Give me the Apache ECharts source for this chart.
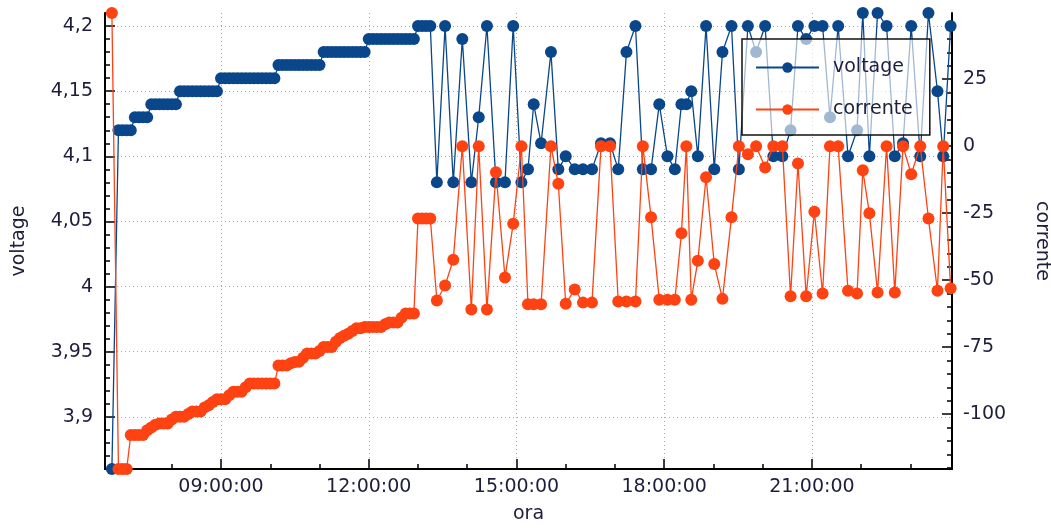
<!DOCTYPE html>
<html>
<head>
<meta charset="utf-8">
<script src="https://cdn.jsdelivr.net/npm/echarts@6/dist/echarts.min.js"></script>
<style>
  html, body { margin: 0; padding: 0; background: #fff; }
  #chart { width: 1051px; height: 528px; }
</style>
</head>
<body>
<div id="chart"></div>
<script>
const times = [
  "06:47", "06:55", "07:00", "07:05", "07:10", "07:15", "07:20", "07:25", "07:30", "07:35",
  "07:40", "07:45", "07:50", "07:55", "08:00", "08:05", "08:10", "08:15", "08:20", "08:25",
  "08:30", "08:35", "08:40", "08:45", "08:50", "08:55", "09:00", "09:05", "09:10", "09:15",
  "09:20", "09:25", "09:30", "09:35", "09:40", "09:45", "09:50", "09:55", "10:00", "10:05",
  "10:10", "10:15", "10:20", "10:25", "10:30", "10:35", "10:40", "10:45", "10:50", "10:55",
  "11:00", "11:05", "11:10", "11:15", "11:20", "11:25", "11:30", "11:35", "11:40", "11:45",
  "11:50", "11:55", "12:00", "12:05", "12:10", "12:15", "12:20", "12:25", "12:30", "12:35",
  "12:40", "12:45", "12:50", "12:55", "13:00", "13:05", "13:10", "13:15",
  "13:23", "13:33", "13:43", "13:54", "14:05", "14:14", "14:24", "14:35", "14:46", "14:56",
  "15:06", "15:14", "15:21", "15:30", "15:42", "15:51", "16:00", "16:11", "16:21", "16:32",
  "16:43", "16:54", "17:04", "17:14", "17:25", "17:34", "17:44", "17:54", "18:04", "18:13",
  "18:21", "18:27", "18:33", "18:41", "18:51", "19:01", "19:11", "19:22", "19:31", "19:42",
  "19:52", "20:03", "20:13", "20:24", "20:34", "20:43", "20:53", "21:03", "21:13", "21:22",
  "21:32", "21:44", "21:55", "22:02", "22:10", "22:20", "22:31", "22:41", "22:51", "23:01",
  "23:12", "23:22", "23:33", "23:40", "23:49"
];
const voltage = [
  3.86, 4.12, 4.12, 4.12, 4.12, 4.13, 4.13, 4.13, 4.13, 4.14,
  4.14, 4.14, 4.14, 4.14, 4.14, 4.14, 4.15, 4.15, 4.15, 4.15,
  4.15, 4.15, 4.15, 4.15, 4.15, 4.15, 4.16, 4.16, 4.16, 4.16,
  4.16, 4.16, 4.16, 4.16, 4.16, 4.16, 4.16, 4.16, 4.16, 4.16,
  4.17, 4.17, 4.17, 4.17, 4.17, 4.17, 4.17, 4.17, 4.17, 4.17,
  4.17, 4.18, 4.18, 4.18, 4.18, 4.18, 4.18, 4.18, 4.18, 4.18,
  4.18, 4.18, 4.19, 4.19, 4.19, 4.19, 4.19, 4.19, 4.19, 4.19,
  4.19, 4.19, 4.19, 4.19, 4.2, 4.2, 4.2, 4.2,
  4.08, 4.2, 4.08, 4.19, 4.08, 4.13, 4.2, 4.08, 4.08, 4.2,
  4.08, 4.09, 4.14, 4.11, 4.18, 4.09, 4.1, 4.09, 4.09, 4.09,
  4.11, 4.11, 4.09, 4.18, 4.2, 4.09, 4.09, 4.14, 4.1, 4.09,
  4.14, 4.14, 4.15, 4.1, 4.2, 4.09, 4.18, 4.2, 4.09, 4.2,
  4.18, 4.2, 4.1, 4.1, 4.12, 4.2, 4.19, 4.2, 4.2, 4.13,
  4.2, 4.1, 4.12, 4.21, 4.1, 4.21, 4.2, 4.1, 4.11, 4.2,
  4.1, 4.21, 4.15, 4.1, 4.2
];
const corrente = [
  49.7, -120.5, -120.5, -120.5, -107.8, -107.8, -107.8, -107.8, -106, -105,
  -104, -103.5, -103.5, -103.5, -102, -101, -101, -101, -100, -99,
  -99, -99, -97.5, -96.7, -95.5, -94.5, -94.5, -94.5, -93, -91.7,
  -91.7, -91.7, -90, -88.6, -88.6, -88.6, -88.6, -88.6, -88.6, -88.6,
  -81.9, -81.9, -81.9, -81, -80.6, -80.5, -79, -77.4, -77.4, -77.4,
  -76.5, -75, -75, -75, -73, -71.6, -70.8, -70, -69, -68,
  -68, -67.5, -67.5, -67.5, -67.5, -67.5, -66.5, -65.8, -65.8, -65.8,
  -64, -62.5, -62.5, -62.5, -27, -27, -27, -27,
  -57.6, -52, -42.4, 0, -61, 0, -61, -9.7, -49, -29,
  0, -59, -59, -59, 0, -14, -58.8, -53.5, -58.4, -58.4,
  0, 0, -58, -58, -58, 0, -26.5, -57.3, -57.3, -57.3,
  -32.5, 0, -57.3, -42.8, -11.6, -44, -57, -26.5, 0, -3,
  0, -8, 0, 0, -56, -6.5, -56, -24.5, -55, 0,
  0, -54, -55, -9, -25, -54.6, 0, -54.6, 0, -10.5,
  0, -27, -54, 0, -53
];

// axis ticks (minutes of the day for the time axis)
const hourTicks = [540, 720, 900, 1080, 1260];
const voltageTicks = [3.9, 3.95, 4, 4.05, 4.1, 4.15, 4.2];
const correnteTicks = [-100, -75, -50, -25, 0, 25];

const hourMinor = [];
for (let m = 420; m <= 1380; m += 60) {
  if (!hourTicks.includes(m)) hourMinor.push(m);
}
const voltageMinor = [];
for (let i = 387; i <= 421; i++) {
  if (i % 5 !== 0) voltageMinor.push(i / 100);
}
const correnteMinor = [];
for (let c = -120; c <= 45; c += 5) {
  if (c % 25 !== 0) correnteMinor.push(c);
}

function toMinutes(t) {
  const [h, m] = t.split(":").map(Number);
  return h * 60 + m;
}

function formatTime(value) {
  const h = Math.floor(value / 60);
  const m = Math.round(value % 60);
  return String(h).padStart(2, "0") + ":" + String(m).padStart(2, "0") + ":00";
}

const blue = "#0a468a";
const orange = "#ff4212";
const textColor = "#1e1e3c";
const fontFamily = "DejaVu Sans";
const axisLineStyle = { color: "#000", width: 2 };
const tickLineStyle = { color: "#000", width: 1.5 };
const gridLineStyle = { color: "#a8a8a8", width: 1, type: [1, 3] };
const labelStyle = { fontSize: 19, color: textColor, fontFamily: fontFamily };

const xMin = 398.6;
const xMax = 1430.7;
const vMin = 3.86;
const vMax = 4.21;
const cMin = -120.5;
const cMax = 49.7;

const chart = echarts.init(document.getElementById("chart"));

chart.setOption({
  animation: false,
  backgroundColor: "#fff",
  grid: { left: 105, right: 99, top: 13, bottom: 59, containLabel: false, outerBoundsMode: "none" },
  legend: {
    data: ["voltage", "corrente"],
    orient: "vertical",
    left: 742,
    top: 39,
    padding: [19, 17, 16, 13],
    itemWidth: 63,
    itemHeight: 13,
    itemGap: 23,
    backgroundColor: "rgba(255,255,255,0.62)",
    borderColor: "#111",
    borderWidth: 1.5,
    textStyle: Object.assign({ padding: [0, 0, 0, 9] }, labelStyle),
  },
  xAxis: [
    {
      type: "value",
      min: xMin,
      max: xMax,
      name: "ora",
      nameLocation: "middle",
      nameGap: 36,
      nameTextStyle: labelStyle,
      axisLine: { show: true, onZero: false, lineStyle: axisLineStyle },
      axisTick: { show: true, inside: true, length: 10, customValues: hourTicks, lineStyle: tickLineStyle },
      axisLabel: Object.assign({ customValues: hourTicks, formatter: formatTime, margin: 9 }, labelStyle),
      splitLine: { show: true, lineStyle: gridLineStyle },
    },
    {
      type: "value",
      min: xMin,
      max: xMax,
      position: "bottom",
      axisLine: { show: false, onZero: false },
      axisTick: { show: true, inside: true, length: 5, customValues: hourMinor, lineStyle: tickLineStyle },
      axisLabel: { show: false },
      splitLine: { show: false },
    },
  ],
  yAxis: [
    {
      type: "value",
      min: vMin,
      max: vMax,
      position: "left",
      name: "voltage",
      nameLocation: "middle",
      nameGap: 76,
      nameRotate: 90,
      nameTextStyle: labelStyle,
      axisLine: { show: true, onZero: false, lineStyle: axisLineStyle },
      axisTick: { show: true, inside: true, length: 10, customValues: voltageTicks, lineStyle: tickLineStyle },
      axisLabel: Object.assign({
        customValues: voltageTicks,
        margin: 12,
        formatter: (v) => String(v).replace(".", ","),
      }, labelStyle),
      splitLine: { show: true, lineStyle: gridLineStyle },
    },
    {
      type: "value",
      min: cMin,
      max: cMax,
      position: "right",
      name: "corrente",
      nameLocation: "middle",
      nameGap: 80,
      nameRotate: -90,
      nameTextStyle: labelStyle,
      axisLine: { show: true, onZero: false, lineStyle: axisLineStyle },
      axisTick: { show: true, inside: true, length: 10, customValues: correnteTicks, lineStyle: tickLineStyle },
      axisLabel: Object.assign({ customValues: correnteTicks, margin: 11 }, labelStyle),
      splitLine: { show: false },
    },
    {
      type: "value",
      min: vMin,
      max: vMax,
      position: "left",
      axisLine: { show: false, onZero: false },
      axisTick: { show: true, inside: true, length: 5, customValues: voltageMinor, lineStyle: tickLineStyle },
      axisLabel: { show: false },
      splitLine: { show: false },
    },
    {
      type: "value",
      min: cMin,
      max: cMax,
      position: "right",
      axisLine: { show: false, onZero: false },
      axisTick: { show: true, inside: true, length: 5, customValues: correnteMinor, lineStyle: tickLineStyle },
      axisLabel: { show: false },
      splitLine: { show: false },
    },
  ],
  series: [
    {
      name: "voltage",
      type: "line",
      xAxisIndex: 0,
      yAxisIndex: 0,
      data: times.map((t, i) => [toMinutes(t), voltage[i]]),
      symbol: "circle",
      symbolSize: 12,
      showAllSymbol: true,
      itemStyle: { color: blue },
      lineStyle: { color: blue, width: 1.3 },
      z: 2,
    },
    {
      name: "corrente",
      type: "line",
      xAxisIndex: 0,
      yAxisIndex: 1,
      data: times.map((t, i) => [toMinutes(t), corrente[i]]),
      symbol: "circle",
      symbolSize: 12,
      showAllSymbol: true,
      itemStyle: { color: orange },
      lineStyle: { color: orange, width: 1.3 },
      z: 3,
    },
  ],
});
</script>
</body>
</html>
